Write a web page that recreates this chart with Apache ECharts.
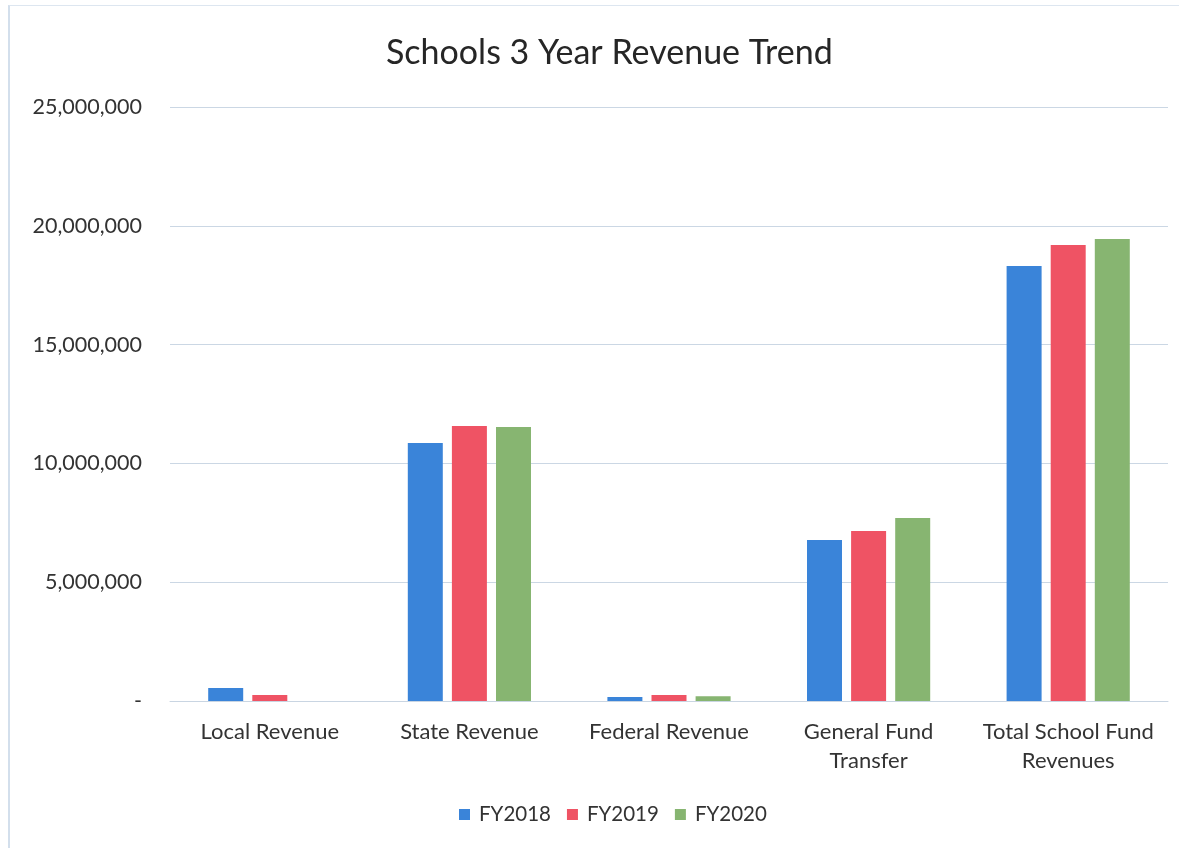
<!DOCTYPE html>
<html>
<head>
<meta charset="utf-8">
<script src="https://cdn.jsdelivr.net/npm/echarts@6/dist/echarts.min.js"></script>
<style>
  html, body { margin: 0; padding: 0; background: #fff; }
  #frame { position: absolute; left: 8px; top: 5px; width: 1171px; height: 843px;
           border-left: 2px solid #d3dfec; border-top: 1px solid #dde6f0; box-sizing: border-box; }
  #chart { position: absolute; left: 0; top: 0; width: 1179px; height: 848px; }
</style>
</head>
<body>
<div id="frame"></div>
<div id="chart"></div>
<script>
// categories + series values
const categories = ['Local Revenue', 'State Revenue', 'Federal Revenue', 'General Fund\nTransfer', 'Total School Fund\nRevenues'];
const fy2018 = [550000, 10860000, 170000, 6780000, 18310000];
const fy2019 = [250000, 11570000, 250000, 7150000, 19190000];
const fy2020 = [0, 11530000, 200000, 7700000, 19440000];
const seriesNames = ['FY2018', 'FY2019', 'FY2020'];
const colors = ['#3a84d9', '#ef5364', '#87b571'];

const font = 'Lato, "Open Sans", sans-serif';

function fmtAxis(v) {
  if (v === 0) return '-';
  return Number(v).toLocaleString('en-US');
}

const chart = echarts.init(document.getElementById('chart'));
const data = [fy2018, fy2019, fy2020];

chart.setOption({
  animation: false,
  title: {
    text: 'Schools 3 Year Revenue Trend',
    left: 381,
    top: 31,
    textStyle: { fontFamily: font, fontSize: 34, fontWeight: 'normal', color: '#262626' }
  },
  legend: {
    bottom: 18,
    left: 454,
    itemWidth: 11,
    itemHeight: 11,
    itemGap: 16,
    icon: 'rect',
    textStyle: { fontFamily: font, fontSize: 20.5, color: '#333', padding: [0, 0, 0, 4] },
    data: seriesNames
  },
  grid: { left: 170, right: 11, top: 107, bottom: 147 },
  xAxis: {
    type: 'category',
    data: categories,
    axisLine: { lineStyle: { color: '#c9d5e2' } },
    axisTick: { show: false },
    axisLabel: { interval: 0, fontFamily: font, fontSize: 22, color: '#333', lineHeight: 29, margin: 16 }
  },
  yAxis: {
    type: 'value',
    min: 0,
    max: 25000000,
    interval: 5000000,
    axisLine: { show: false },
    axisTick: { show: false },
    splitLine: { lineStyle: { color: '#cbd7e4' } },
    axisLabel: { fontFamily: font, fontSize: 21.5, color: '#333', margin: 28, formatter: fmtAxis }
  },
  series: seriesNames.map((name, i) => ({
    name,
    type: 'bar',
    data: data[i],
    barWidth: 35,
    barGap: '26%',
    itemStyle: { color: colors[i] }
  }))
});
</script>
</body>
</html>
